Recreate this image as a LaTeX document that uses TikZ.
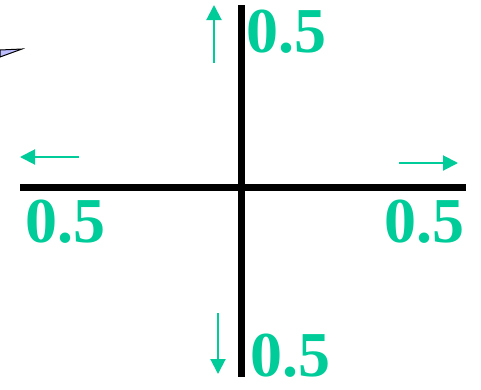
\documentclass[tikz,border=0pt]{standalone}
\usepackage{fontspec}
\setmainfont{Liberation Serif}
\usetikzlibrary{arrows.meta}
\definecolor{tealgreen}{RGB}{0,204,153}
\definecolor{wedgeblue}{RGB}{190,190,255}
\tikzset{
  axisline/.style={line width=7pt},
  smallarrow/.style={draw=tealgreen, line width=2pt, -{Triangle[width=15pt,length=15pt]}},
  lbl/.style={text=tealgreen, font=\fontsize{64}{64}\selectfont\bfseries, inner sep=0pt, anchor=base west}
}
\begin{document}
\begin{tikzpicture}[x=1pt,y=-1pt]
\useasboundingbox (0,0) rectangle (481,389);
% axes
\coordinate (vtop) at (241.5,5);
\coordinate (vbot) at (241.5,377);
\coordinate (hl) at (20,187.5);
\coordinate (hr) at (466,187.5);
\draw[axisline] (vtop) -- (vbot);
\draw[axisline] (hl) -- (hr);
% wedge fragment
\filldraw[fill=wedgeblue, draw=black, line width=1pt] (0,50) -- (22,49) -- (0,57) -- cycle;
% arrows
\coordinate (ua0) at (214,63); \coordinate (ua1) at (214,5);
\coordinate (la0) at (79,157); \coordinate (la1) at (20,157);
\coordinate (ra0) at (399,163); \coordinate (ra1) at (458,163);
\coordinate (da0) at (218,313); \coordinate (da1) at (218,374);
\draw[smallarrow] (ua0) -- (ua1);
\draw[smallarrow] (la0) -- (la1);
\draw[smallarrow] (ra0) -- (ra1);
\draw[smallarrow] (da0) -- (da1);
% labels
\node[lbl] (ltop) at (246,52) {0.5};
\node[lbl] (lleft) at (25,242) {0.5};
\node[lbl] (lright) at (384,242) {0.5};
\node[lbl] (lbot) at (250,376) {0.5};
\end{tikzpicture}
\end{document}
